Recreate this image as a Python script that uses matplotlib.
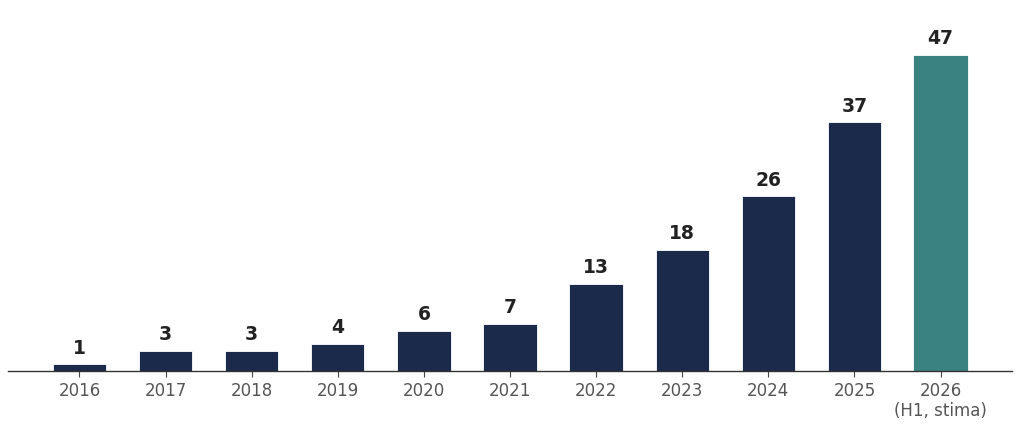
import matplotlib
matplotlib.use("Agg")
import matplotlib.pyplot as plt

# ── Dati ──
anni = ["2016", "2017", "2018", "2019", "2020", "2021", "2022", "2023", "2024", "2025", "2026\n(H1, stima)"]
valori = [1, 3, 3, 4, 6, 7, 13, 18, 26, 37, 47]

C_NAVY = "#1b2a4a"
C_TEAL = "#3a8282"

fig = plt.figure(figsize=(10.24, 4.43), dpi=100)
ax = fig.add_axes([8 / 1024, 72 / 443, 1004 / 1024, 363 / 443])

x = list(range(len(valori)))
colori = [C_NAVY] * (len(valori) - 1) + [C_TEAL]
larghezze = [0.62] * (len(valori) - 1) + [0.64]
bars = ax.bar(x, valori, width=larghezze, color=colori, edgecolor="white", linewidth=0.6)

for b, v in zip(bars, valori):
    ax.text(b.get_x() + b.get_width() / 2, v + 1.0, str(v), ha="center", va="bottom",
            fontsize=13.5, fontweight="bold", color="#222222")

ax.set_xlim(-0.83, len(valori) - 0.17)
ax.set_ylim(0, 54)
ax.set_xticks(x)
ax.set_xticklabels(anni, fontsize=12, color="#555555", linespacing=1.15)
ax.tick_params(axis="x", length=4, color="#444444", pad=4)
ax.set_yticks([])
for s in ["top", "right", "left"]:
    ax.spines[s].set_visible(False)
ax.spines["bottom"].set_color("#333333")
ax.spines["bottom"].set_linewidth(1.0)

fig.savefig("out.png", dpi=100, facecolor="white")
plt.close(fig)
